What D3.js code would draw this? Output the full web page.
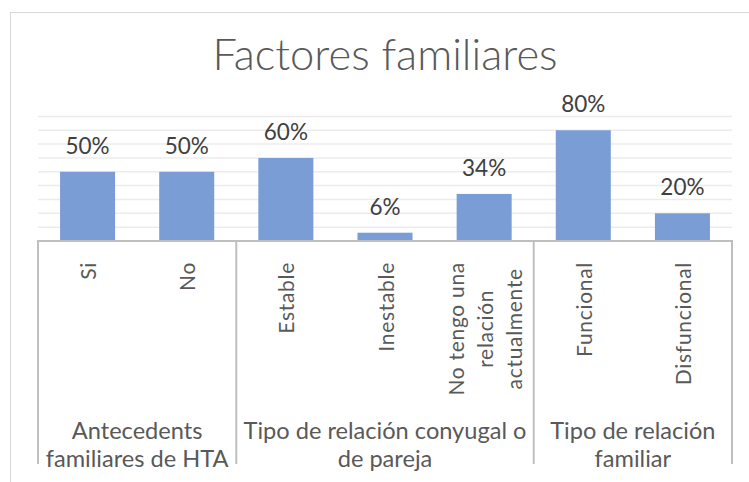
<!DOCTYPE html>
<html><head><meta charset="utf-8">
<script src="https://cdn.jsdelivr.net/npm/d3@7"></script>
<style>
html,body{margin:0;padding:0;background:#fff;}
svg{display:block;}
text{font-family:Lato,"Open Sans",sans-serif;}
</style></head>
<body>
<svg id="chart" width="749" height="482"></svg>
<script>
const title = "Factores familiares";
const categories = ["Si","No","Estable","Inestable","No tengo una relación actualmente","Funcional","Disfuncional"];
const categoryLines = [["Si"],["No"],["Estable"],["Inestable"],["No tengo una","relación","actualmente"],["Funcional"],["Disfuncional"]];
const values = [50,50,60,6,34,80,20];
const groups = ["Antecedents familiares de HTA","Tipo de relación conyugal o de pareja","Tipo de relación familiar"];
const groupLines = [["Antecedents","familiares de HTA"],["Tipo de relación conyugal o","de pareja"],["Tipo de relación","familiar"]];
const groupSizes = [2,3,2];
const yTicks = [0,10,20,30,40,50,60,70,80,90];

const svg = d3.select("#chart");
const plot = {left:38, right:732, top:116.4, bottom:241};

// chart border
svg.append("rect").attr("x",10.5).attr("y",12.5).attr("width",760).attr("height",480)
  .attr("fill","#fff").attr("stroke","#d9d9d9").attr("stroke-width",1);

const x = d3.scaleBand().domain(categories).range([plot.left, plot.right])
  .paddingInner(0.445).paddingOuter(0.2225);
const y = d3.scaleLinear().domain([0,90]).range([plot.bottom, plot.top]);

// gridlines
svg.append("g").selectAll("line").data(yTicks.slice(1)).join("line")
  .attr("x1",plot.left).attr("x2",plot.right)
  .attr("y1",d=>y(d)).attr("y2",d=>y(d))
  .attr("stroke","#ececec").attr("stroke-width",1.5);

// bars
svg.append("g").selectAll("rect").data(values).join("rect")
  .attr("x",(d,i)=>x(categories[i])).attr("width",x.bandwidth())
  .attr("y",d=>y(d)).attr("height",d=>y(0)-y(d))
  .attr("fill","#7a9dd6");

// data labels
svg.append("g").selectAll("text").data(values).join("text")
  .attr("x",(d,i)=>x(categories[i])+x.bandwidth()/2)
  .attr("y",d=>y(d)-18)
  .attr("text-anchor","middle")
  .attr("font-size",22.5).attr("fill","#404040")
  .text(d=>d+"%");

// axis lines
const step = x.step();
const axisG = svg.append("g");
axisG.append("line").attr("x1",plot.left).attr("x2",plot.right)
  .attr("y1",plot.bottom).attr("y2",plot.bottom)
  .attr("stroke","#bfbfbf").attr("stroke-width",2);
let cum = 0;
const bounds = [0];
groupSizes.forEach(s=>{cum+=s;bounds.push(cum);});
axisG.selectAll("line.sep").data(bounds).join("line").attr("class","sep")
  .attr("x1",d=>plot.left+d*step).attr("x2",d=>plot.left+d*step)
  .attr("y1",plot.bottom-1).attr("y2",464)
  .attr("stroke","#bfbfbf").attr("stroke-width",2);

// category labels (rotated)
const catTop = 262, lineH = 29, catFont = 21;
categoryLines.forEach((lines,i)=>{
  const cx = x(categories[i]) + x.bandwidth()/2;
  const g = svg.append("g");
  const texts = lines.map(l=>g.append("text").attr("font-size",catFont).attr("fill","#595959")
      .attr("letter-spacing",0.7)
      .attr("text-anchor","middle").attr("dominant-baseline","central").text(l));
  const maxLen = d3.max(texts, t=>t.node().getComputedTextLength());
  const cy = catTop + maxLen/2;
  const n = lines.length;
  texts.forEach((t,j)=>{
    const lx = cx + (j-(n-1)/2)*lineH;
    t.attr("transform",`translate(${lx},${cy}) rotate(-90)`);
  });
});

// group labels
groupLines.forEach((lines,i)=>{
  const gx = plot.left + (bounds[i]+bounds[i+1])/2*step;
  lines.forEach((l,j)=>{
    svg.append("text").attr("x",gx).attr("y",439+j*28)
      .attr("text-anchor","middle").attr("font-size",23.6).attr("fill","#595959").text(l);
  });
});

// title
svg.append("text").attr("x",(plot.left+plot.right)/2).attr("y",70)
  .attr("text-anchor","middle").attr("font-size",43.5).attr("font-weight",300)
  .attr("fill","#595959").text(title);
</script>
</body></html>
